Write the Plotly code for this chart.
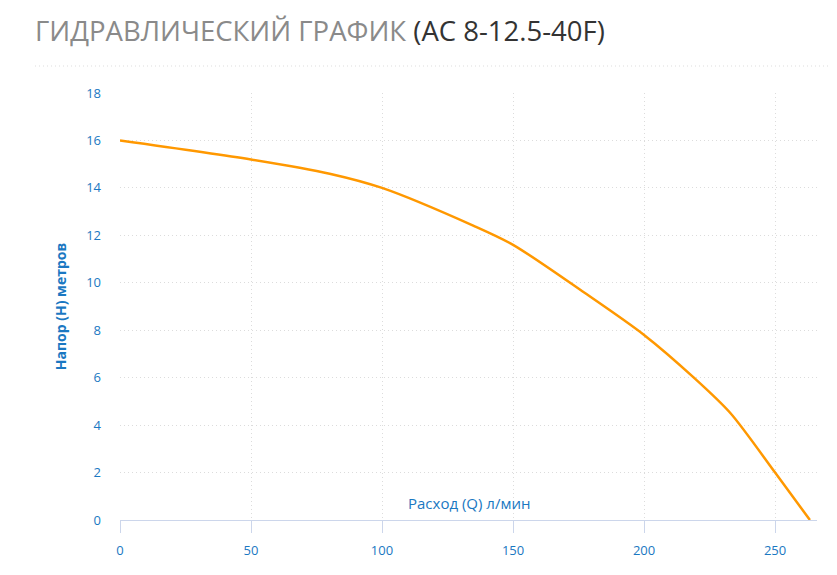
import plotly.graph_objects as go

# расход Q, л/мин и напор H, м
flow = [0, 50, 80, 100, 135, 150, 177, 200, 219, 233, 250, 263.3]
head = [16.0, 15.2, 14.6, 14.0, 12.4, 11.6, 9.6, 7.8, 6.0, 4.5, 2.0, 0.0]

x_ticks = [0, 50, 100, 150, 200, 250]
y_ticks = [0, 2, 4, 6, 8, 10, 12, 14, 16, 18]

blue = "#1a78c2"
grid = "#dcdcdc"
axis_col = "#ccd6eb"

# страница открывается с отступом body 8px, поэтому поля смещены на 8px
W, H = 837, 575
fig = go.Figure()
fig.add_trace(go.Scatter(
    x=flow, y=head, mode="lines",
    line=dict(color="#ff9800", width=2.5, shape="spline", smoothing=0.8),
    hoverinfo="x+y", showlegend=False,
))

fig.update_layout(
    width=W, height=H,
    margin=dict(l=112, r=28, t=85, b=63),
    paper_bgcolor="white", plot_bgcolor="white",
    font=dict(family="Open Sans, sans-serif", color=blue, size=12),
    title=dict(
        text="<span style='color:#8a8a8a'>ГИДРАВЛИЧЕСКИЙ ГРАФИК</span> <span style='color:#333333'>(AC 8-12.5-40F)</span>",
        x=27 / W, xanchor="left",
        y=1 - 14 / H, yanchor="top",
        font=dict(family="Open Sans, sans-serif", size=27.5, color="#8a8a8a"),
    ),
    xaxis=dict(
        range=[0, 266], tickvals=x_ticks,
        showgrid=True, gridcolor=grid, griddash="1px,3px", gridwidth=1,
        showline=True, linecolor=axis_col, linewidth=1,
        ticks="outside", ticklen=12, tickcolor=axis_col, ticklabelstandoff=6,
        tickfont=dict(color=blue, size=13),
        zeroline=False, fixedrange=True,
    ),
    yaxis=dict(
        range=[0, 18], tickvals=y_ticks,
        showgrid=True, gridcolor=grid, griddash="1px,3px", gridwidth=1,
        showline=False, ticks="", ticklabelstandoff=18,
        tickfont=dict(color=blue, size=13),
        zeroline=False, fixedrange=True,
        title=dict(text="<b>Напор (H) метров</b>", font=dict(color=blue, size=14), standoff=16),
    ),
)

# подпись оси X внутри области графика
fig.add_annotation(
    text="Расход (Q) л/мин", x=0.5, xref="paper", y=0, yref="paper",
    xanchor="center", yanchor="bottom", yshift=5, showarrow=False,
    font=dict(color=blue, size=15),
)

# пунктирная линия под заголовком
fig.add_shape(
    type="line", xref="paper", yref="paper",
    x0=-85 / 697, x1=1.02, y0=1 + 27 / 427, y1=1 + 27 / 427,
    line=dict(color="#dddddd", width=1, dash="1px,3px"),
)

fig.write_html("out.html")
